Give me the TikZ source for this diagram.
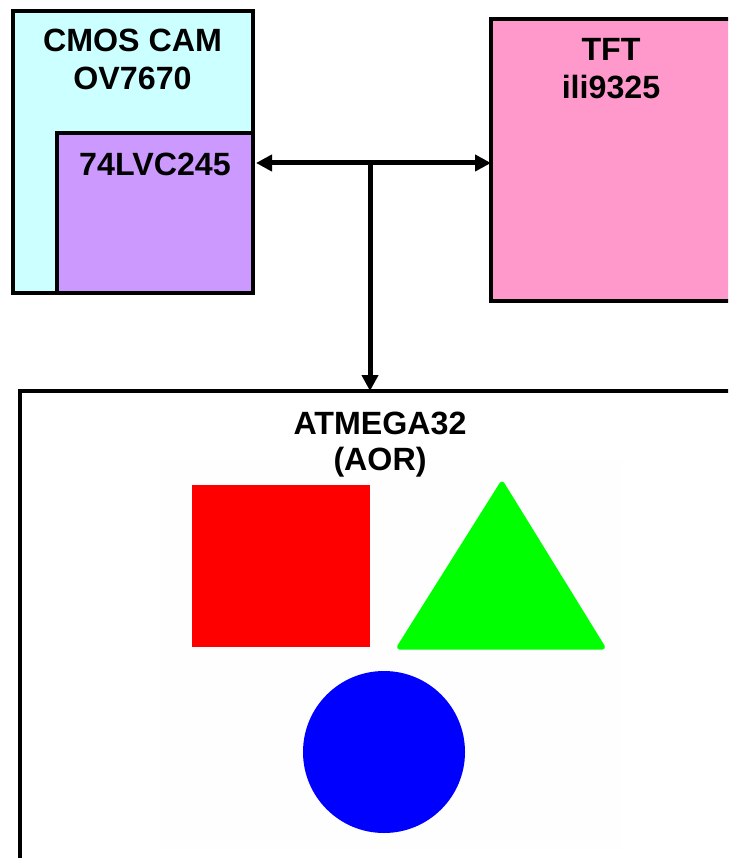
\documentclass[tikz,border=0pt]{standalone}
\usepackage{fontspec}
\setmainfont{Liberation Sans}
\usetikzlibrary{arrows.meta}
\definecolor{camcol}{HTML}{CCFFFF}
\definecolor{buscol}{HTML}{CC99FF}
\definecolor{tftcol}{HTML}{FF99CC}
\definecolor{pale}{HTML}{FEFEFE}
\tikzset{
  blk/.style={draw=black,line width=3.6pt,rectangle,inner sep=0pt,outer sep=0pt,anchor=north west},
  lbl/.style={font=\fontsize{32.2}{38}\selectfont\bfseries,align=center,inner sep=0pt,anchor=base},
}
\begin{document}
\begin{tikzpicture}[x=1pt,y=-1pt]
\useasboundingbox (0,0) rectangle (728,858);
\clip (0,0) rectangle (728,858);
\node[blk,fill=camcol,minimum width=240pt,minimum height=282pt] (cam) at (13,11) {};
\node[blk,fill=buscol,minimum width=196pt,minimum height=160pt] (lvc) at (57,133) {};
\node[blk,fill=tftcol,minimum width=280pt,minimum height=282pt] (tft) at (491,19) {};
\node[blk,fill=white,minimum width=760pt,minimum height=520pt] (mcu) at (20,391) {};
\fill[pale] (160,460) rectangle (622,850);
\node[lbl] (camt) at (132.5,52) {CMOS CAM};
\node[lbl] (camv) at (132.5,90) {OV7670};
\node[lbl] (lvct) at (155,176) {74LVC245};
\node[lbl] (tftt) at (611,61) {TFT};
\node[lbl] (tftv) at (611,99) {ili9325};
\node[lbl] (mcut) at (380,434) {ATMEGA32};
\node[lbl] (mcua) at (380,470) {(AOR)};
\fill[red] (192,485) rectangle (370,647);
\fill[green,draw=green,line width=5pt,line join=round] (502,484) -- (399.5,647) -- (602.5,647) -- cycle;
\fill[blue] (384,752) circle (81);
\coordinate (jn) at (370,163);
\draw[line width=5pt,{Triangle[length=16pt,width=16pt]}-{Triangle[length=16pt,width=16pt]}] ([xshift=3pt]lvc.east |- jn) -- (tft.west |- jn);
\draw[line width=5pt,-{Triangle[length=16pt,width=16pt]}] (jn) -- (jn |- mcu.north);
\end{tikzpicture}
\end{document}
